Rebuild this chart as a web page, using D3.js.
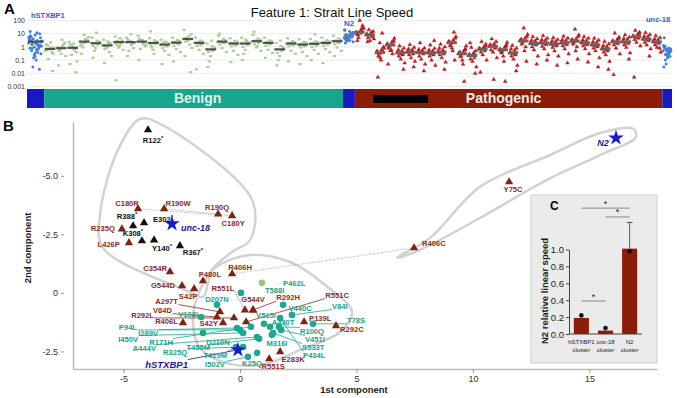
<!DOCTYPE html>
<html>
<head>
<meta charset="utf-8">
<script src="https://cdn.jsdelivr.net/npm/d3@7"></script>
<style>
  body { margin: 0; background: #fff; }
  svg text { font-family: 'Liberation Sans', Arial, sans-serif; }
</style>
</head>
<body>
<svg id="fig" width="677" height="398"></svg>
<script>
// ---------- panel A data ----------
var yTicksA = [100, 10, 1, 0.1, 0.01, 0.001];
var yTickLabelsA = ["100", "10", "1", "0.1", "0.01", "0.001"];
var groupNames = ["hSTXBP1", "Benign", "N2", "Pathogenic", "unc-18"];

var hstxbp1Vals = [2,3,1.5,5,8,0.8,1.2,4,2.5,0.6,6,10,1,3.5,0.4,2.2,0.3,1.8,7,0.9,0.15,2.8,12,0.5,1.4,0.2,4.5,0.7,0.03,1.1,0.1,3,0.02,0.25,5.5,1.6,0.8,2.6,0.35,15];
var n2Vals = [5,8,3,12,6,4,10,7,2.5,15,9,5.5,3.5,20,6.5,4.5,11,7.5,2,8.5,5,13,3,6,9.5,4,18,7,2.8,10.5];
var unc18Vals = [0.5,0.3,0.8,0.2,0.6,1,0.4,0.25,0.7,0.15,0.9,0.35,0.55,1.3,0.45,0.1,0.65,0.3,5,0.75,0.05,0.5,0.2,1.1,0.4,0.6,0.03,0.8,0.28];
var ctrlMedians = {hSTXBP1: 2.5, N2: 7};

var benignMedians = [0.7,0.8,0.85,2.5,1.9,1.3,2.3,2.3,2.5,2.0,1.5,2.1,4.0,2.0,0.65,2.5,1.8,1.8,2.7,2.0,0.65,1.8,1.5,1.7,2.0,2.7];
var benignVals = [
  [0.5,0.9,1.3,0.3,0.7,1.6,0.4,0.12,0.8,2.2,0.6,0.015],
  [0.8,1.1,0.5,2.0,0.3,0.9,1.4,0.6,0.2,3.5,0.04],
  [0.9,0.6,1.5,0.4,1.1,2.4,0.7,0.25,0.08,1.8,0.05,0.012],
  [2.5,4,1.6,3.2,8,1.2,2.8,0.9,5.5,2.0,0.3],
  [1.9,3,1.2,2.5,0.8,5,1.5,0.5,2.2,12,0.15],
  [1.3,2,0.7,1.8,0.9,3.5,0.4,1.1,0.2,2.6,0.06],
  [2.3,4.5,1.5,3,0.9,6,1.8,2.8,0.6,1.2,0.003],
  [2.3,1.4,3.6,0.8,2.7,5,1.9,0.5,2.1,9,0.2],
  [2.5,1.6,4,1.1,3,7,2,0.7,1.4,3.3,0.1],
  [2,3.2,1.3,2.6,0.6,4.5,1.7,0.9,2.3,0.3,15],
  [1.5,2.5,0.8,1.9,0.5,3.5,1.1,2.2,0.25,1.3,0.05],
  [2.1,3.4,1.2,2.7,0.7,5,1.6,2.4,0.4,1.9,0.08],
  [4,6.5,2.5,9,3,20,1.5,5,0.8,3.5,0.2,0.012],
  [2,3,1.2,2.5,0.6,5,1.4,2.2,0.3,1.7,0.02],
  [0.65,1.1,0.4,0.9,0.2,1.8,0.5,0.08,0.7,3,0.03],
  [2.5,4,1.5,3.2,0.8,7,1.9,2.8,0.4,2.1,10],
  [1.8,2.9,1.1,2.4,0.5,4.5,1.3,2,0.25,1.6,0.07],
  [1.8,2.7,1,2.2,0.6,5,1.4,0.3,1.9,3.5,0.1],
  [2.7,4.2,1.6,3.4,0.9,8,2,3,0.5,1.2,14],
  [2,3.1,1.2,2.6,0.6,5,1.5,2.3,0.35,1.7,0.15],
  [0.65,1.2,0.35,0.9,0.2,2,0.5,0.1,0.75,3,0.04],
  [1.8,2.8,1.1,2.3,0.5,4.5,1.3,2,0.3,1.6,0.08],
  [1.5,2.4,0.9,2,0.4,3.8,1.1,1.7,0.2,1.3,0.05],
  [1.7,2.6,1,2.2,0.6,4,1.2,1.9,0.3,9,0.1],
  [2,3.2,1.2,2.6,0.7,5,1.5,2.3,0.4,1.8,0.06],
  [2.7,4.3,1.6,3.5,0.9,7,2,3,0.5,2.2,0.2]
];

var pathMedians = [13,8,0.37,1.4,0.35,0.4,0.37,0.35,0.4,2.1,0.3,0.22,0.67,1.1,0.6,0.35,2.8,1.8,2.0,1.6,2.0,2.7,2.0,1.4,0.7,2.4,2.4,6.0,3.8,2.4];
var pathVals = [
  [13,20,8,30,100,10,16,5,25,11,3,40],
  [8,12,5,15,3,10,6,20,4,9,2.5,7],
  [0.37,0.6,0.2,1,0.15,0.5,11,0.3,0.8,0.1,0.005,0.45,2],
  [1.4,2.2,0.8,3,0.5,1.8,0.3,1.1,4.5,0.6,0.05,2.6],
  [0.35,0.5,0.2,0.8,0.12,0.4,0.25,1.2,0.06,0.3,0.6,0.02],
  [0.4,0.6,0.25,0.9,0.15,0.5,0.3,1.5,0.08,0.45,0.7,0.03],
  [0.37,0.55,0.2,0.8,0.12,0.45,0.3,2,0.05,0.4,0.65,0.015],
  [0.35,0.5,0.2,0.75,0.1,0.4,0.25,1.4,0.04,0.3,0.6,3],
  [0.4,0.6,0.25,1,0.15,0.5,0.3,1.6,0.07,0.45,0.8,0.02],
  [2.1,3.2,1.2,4.5,0.8,2.6,13,1.6,6,0.5,2.4,0.1],
  [0.3,0.45,0.18,0.7,0.1,0.35,0.0024,0.22,1.2,0.05,0.4,0.6],
  [0.22,0.35,0.12,0.5,0.08,0.28,0.15,0.9,0.03,0.25,2,0.01],
  [0.67,1,0.4,1.6,0.25,0.8,0.5,2.5,0.1,0.7,0.012,1.2],
  [1.1,1.7,0.6,2.5,0.4,1.3,0.8,4,0.15,0.0034,1.5,0.9],
  [0.6,0.9,0.35,1.4,0.2,0.7,0.0024,0.45,2.2,0.08,0.5,1.1],
  [0.35,0.55,0.2,0.8,0.12,0.4,0.25,1.3,0.04,0.3,0.7,0.015],
  [2.8,4.5,1.6,6,27,3.3,1,2.2,9,0.5,3.8,0.08],
  [1.8,2.8,1,4,0.6,2.2,1.4,6,0.2,1.6,3.2,0.05],
  [2,3.2,1.1,4.5,0.7,2.5,1.5,7,0.25,1.8,3.5,0.1],
  [1.6,2.5,0.9,3.6,0.5,2,1.2,5,0.2,1.4,2.8,0.04],
  [2,3.1,1.2,4.6,0.7,2.5,1.5,6.5,0.3,1.8,3.5,0.06],
  [2.7,4.2,1.6,6,22,3.3,1,2.2,8,0.5,3.6,0.12],
  [2,3,1.2,4.5,0.7,2.4,1.5,6,0.3,1.7,3.4,0.07],
  [1.4,2.2,0.8,3.2,0.5,1.7,1,4.5,0.15,1.2,2.5,0.03],
  [0.7,1.1,0.4,1.7,0.25,0.85,0.5,2.6,0.08,0.6,1.3,0.02],
  [2.4,3.7,1.4,5.5,0.8,3,1.8,11,0.3,2,0.008,4.2],
  [2.4,3.8,1.4,5.5,0.9,3,1.8,8,0.35,2.1,4.4,0.12],
  [6,9,3.5,13,2.2,7,4.5,18,1.2,5,0.005,10],
  [3.8,6,2.2,8.5,1.4,4.6,3,12,0.7,3.3,6.5,0.2],
  [2.4,3.6,1.4,5,0.9,2.9,1.8,7,0.4,2.1,4,0.8]
];

// ---------- panel B data (1st component, 2nd component) ----------
var xTicksB = [-5, 0, 5, 10, 15];
var yTicksB = [-5, -2.5, 0, 2.5];
var yTickLabelsB = ["-5.0", "-2.5", "0", "-2.5"];

var variants = [
  ["R122*","severe",-3.95,-6.96], ["R388*","severe",-4.59,-2.86], ["E302*","severe",-4.12,-2.99],
  ["K308*","severe",-4.21,-2.22], ["Y140*","severe",-3.69,-2.26], ["R367*","severe",-2.58,-2.01],
  ["C180R","path",-4.38,-3.59], ["R190W","path",-3.26,-3.59], ["R190Q","path",-0.94,-3.37],
  ["C180Y","path",-0.34,-3.29], ["R235Q","path",-5.07,-2.73], ["L426P","path",-4.77,-2.14],
  ["R406C","path",7.47,-1.92], ["Y75C","path",11.55,-4.74], ["C354R","path",-3.01,-0.90],
  ["G544D","path",-2.49,-0.30], ["S42P","path",-1.97,-0.17], ["P480L","path",-1.59,-0.51],
  ["R406H","path",-0.34,-0.81], ["R406L","path",-2.45,1.28], ["A297T","path",-0.86,0.81],
  ["V84D","path",-0.99,1.03], ["S42Y","path",-0.73,1.28], ["R292L","path",-0.26,1.07],
  ["R551C","path",0.26,1.24], ["R551L","path",0.21,0.73], ["G544V","path",0.56,0.73],
  ["R292H","path",0.56,0.73], ["P139L","path",2.75,1.24], ["R292C","path",4.12,1.41],
  ["E283K","path",1.72,2.52], ["R551S","path",1.25,2.82],
  ["T588I","benign",0.04,0.0], ["D207N","benign",-0.99,0.51], ["V108I","benign",-1.67,1.03],
  ["D210N","benign",-1.59,1.71], ["I289V","benign",-0.13,1.50], ["P94L","benign",0.0,1.58],
  ["I450V","benign",0.13,1.71], ["R171H","benign",0.47,1.45], ["A444V","benign",0.73,1.88],
  ["T455M","benign",0.82,1.96], ["V515I","benign",1.03,1.32], ["A430T","benign",1.29,1.45],
  ["M316I","benign",1.37,1.79], ["S533T","benign",1.42,1.71], ["R100Q","benign",1.67,1.45],
  ["V451I","benign",1.76,1.58], ["P434L","benign",1.72,1.07], ["V84I","benign",2.23,0.94],
  ["V440C","benign",1.85,0.51], ["T78S","benign",3.13,1.32], ["I502V","benign",0.34,2.73],
  ["K25Q","benign",0.73,2.56], ["R325Q","benign",0.13,2.31], ["T419M","benign",-0.17,2.31],
  ["P462L","gnomad",0.94,-0.43],
  ["unc-18","ctrl",-2.92,-2.95], ["hSTXBP1","ctrl",-0.09,2.43], ["N2","ctrl",16.14,-6.62]
];

var connectors = [["C180R","C180Y"], ["R190W","R190Q"], ["R406C","R406H"]];

var clusterOutlines = [
  [[-4.29,-7.43],[-3.43,-7.22],[0.52,-3.97],[0.43,-2.26],[-0.34,-1.75],[-1.20,-0.98],[-1.59,0.17],[-2.15,-0.04],[-5.88,-1.92],[-6.01,-3.33],[-5.24,-6.11]],
  [[-1.07,-1.07],[0.43,-1.62],[2.15,-1.32],[3.65,-0.34],[4.81,0.81],[4.29,1.67],[2.58,2.43],[1.07,3.03],[-0.43,3.03],[-1.72,2.35],[-2.02,1.15],[-1.72,-0.13]],
  [[6.74,-1.50],[8.16,-2.35],[10.30,-4.53],[13.31,-5.89],[15.46,-6.83],[16.87,-7.01],[17.00,-6.66],[15.46,-5.89],[13.18,-4.83],[10.30,-3.20],[7.73,-1.84]]
];

// ---------- panel C data ----------
var insetCats = ["hSTXBP1", "unc-18", "N2"];
var insetVals = [0.19, 0.04, 1.01];
var insetDots = [0.22, 0.07, 0.98];
var insetErrTop = [null, null, 1.32];
var insetTicks = [0, 0.2, 0.4, 0.6, 0.8, 1.0];
var insetSig = [[0, 2, 1.49], [1, 2, 1.385], [0, 1, 0.39]];

// ---------- layout ----------
var svg = d3.select("#fig");
svg.append("rect").attr("width", 677).attr("height", 398).attr("fill", "#fff");

var colors = {
  blue: "#3f7fdc", green: "#a3c98e", red: "#e3151b", redEdge: "#8a0f0f",
  ctrlBar: "#1818c4", benignBar: "#17a68b", pathBar: "#8b1c08",
  path: "#7f2212", pathText: "#8c2c1c", benign: "#1aa98f", benignText: "#16a38c",
  severe: "#111", ctrl: "#1a1ad0", ctrlText: "#1a1aa0", gnomad: "#9cc483"
};

// ========== Panel A ==========
var xA = d3.scaleLinear().domain([0, 60]).range([27, 672]);
var yA = d3.scaleLog().domain([0.001, 100]).range([86.5, 20.5]);
var span = {"hSTXBP1": [0, 1.6], "Benign": [1.6, 29.4], "N2": [29.4, 30.5], "Pathogenic": [30.5, 59.1], "unc-18": [59.1, 60]};

svg.append("text").attr("x", 4).attr("y", 14).attr("font-size", 15).attr("font-weight", "bold").text("A");
svg.append("text").attr("x", 332).attr("y", 17).attr("text-anchor", "middle").attr("font-size", 13)
  .attr("fill", "#111").text("Feature 1: Strait Line Speed");

svg.append("g").selectAll("line").data(yTicksA).join("line")
  .attr("x1", 27).attr("x2", 672)
  .attr("y1", d => yA(d)).attr("y2", d => yA(d))
  .attr("stroke", "#ececec");

var gA = svg.append("g").attr("transform", "translate(27,0)")
  .call(d3.axisLeft(yA).tickValues(yTicksA).tickFormat((d, i) => yTickLabelsA[i]).tickSize(0).tickPadding(2));
gA.select(".domain").remove();
gA.selectAll("text").attr("font-size", 7).attr("fill", "#333")
  .style("font-family", "'Liberation Sans', Arial, sans-serif");

function columns(name, lists) {
  var s = span[name][0], e = span[name][1], w = (e - s) / lists.length;
  return lists.flatMap((vals, k) => vals.map((v, i) => ({
    x: s + k * w + (0.1 + 0.8 * ((i * 0.618) % 1)) * w, v: v
  })));
}
function dashes(name, meds) {
  var s = span[name][0], e = span[name][1], w = (e - s) / meds.length;
  return meds.map((v, k) => ({x0: s + k * w + 0.05 * w, x1: s + (k + 1) * w - 0.05 * w, v: v}));
}

svg.append("g").selectAll("rect").data(columns("Benign", benignVals)).join("rect")
  .attr("x", d => xA(d.x) - 1.6).attr("y", d => yA(d.v) - 1.1)
  .attr("width", 3.2).attr("height", 2.2).attr("fill", colors.green).attr("opacity", 0.9);

var tri = d3.symbol().type(d3.symbolTriangle).size(6);
svg.append("g").selectAll("path").data(columns("Pathogenic", pathVals)).join("path")
  .attr("d", tri).attr("transform", d => `translate(${xA(d.x)},${yA(d.v)})`)
  .attr("fill", colors.red).attr("stroke", colors.redEdge).attr("stroke-width", 0.4);

var ctrlPts = columns("hSTXBP1", [hstxbp1Vals]).concat(columns("N2", [n2Vals]), columns("unc-18", [unc18Vals]));
svg.append("g").selectAll("circle").data(ctrlPts).join("circle")
  .attr("cx", d => xA(d.x)).attr("cy", d => yA(d.v)).attr("r", 1.5).attr("fill", colors.blue);

var medLines = dashes("Benign", benignMedians).map(d => Object.assign(d, {c: "#4f4f4f", w: 2.2}))
  .concat(dashes("Pathogenic", pathMedians).map(d => Object.assign(d, {c: "#6b6260", w: 3})),
          dashes("hSTXBP1", [ctrlMedians.hSTXBP1]).map(d => Object.assign(d, {c: "#4f4f4f", w: 2.2})),
          dashes("N2", [ctrlMedians.N2]).map(d => Object.assign(d, {c: "#6c7f9c", w: 2.2})));
svg.append("g").selectAll("line").data(medLines).join("line")
  .attr("x1", d => xA(d.x0)).attr("x2", d => xA(d.x1))
  .attr("y1", d => yA(d.v)).attr("y2", d => yA(d.v))
  .attr("stroke", d => d.c).attr("stroke-width", d => d.w);

// group labels above
svg.append("text").attr("x", 31).attr("y", 18).attr("font-size", 7.5).attr("font-weight", "bold").attr("fill", "#2f63c4").text("hSTXBP1");
svg.append("text").attr("x", 344).attr("y", 26).attr("font-size", 8).attr("font-weight", "bold").attr("fill", "#2f63c4").text("N2");
svg.append("text").attr("x", 646).attr("y", 22).attr("font-size", 7.5).attr("font-weight", "bold").attr("fill", "#2f63c4").text("unc-18");

// group colour bar
var barFill = {"hSTXBP1": colors.ctrlBar, "Benign": colors.benignBar, "N2": colors.ctrlBar, "Pathogenic": colors.pathBar, "unc-18": colors.ctrlBar};
svg.append("g").selectAll("rect").data(groupNames).join("rect")
  .attr("x", d => xA(span[d][0])).attr("width", d => xA(span[d][1]) - xA(span[d][0]))
  .attr("y", 89).attr("height", 19).attr("fill", d => barFill[d]);
svg.append("rect").attr("x", 373).attr("y", 95).attr("width", 55).attr("height", 8).attr("fill", "#000");
svg.append("text").attr("x", (xA(span.Benign[0]) + xA(span.Benign[1])) / 2 + 4).attr("y", 103)
  .attr("text-anchor", "middle").attr("font-size", 14).attr("font-weight", "bold").attr("fill", "#dff5ef").text("Benign");
svg.append("text").attr("x", (xA(span.Pathogenic[0]) + xA(span.Pathogenic[1])) / 2 - 5).attr("y", 103)
  .attr("text-anchor", "middle").attr("font-size", 14).attr("font-weight", "bold").attr("fill", "#f3e9e6").text("Pathogenic");

// ========== Panel B ==========
var xB = d3.scaleLinear().domain([-7.17, 17.9]).range([73, 657]);
var yB = d3.scaleLinear().domain([-7.3, 3.25]).range([122, 369]);

svg.append("text").attr("x", 3).attr("y", 131).attr("font-size", 15).attr("font-weight", "bold").text("B");

var gx = svg.append("g").attr("transform", "translate(0,369)")
  .call(d3.axisBottom(xB).tickValues(xTicksB).tickFormat(d => String(d)).tickSizeInner(4).tickSizeOuter(0).tickPadding(3));
gx.select(".domain").attr("stroke", "#bbb").attr("stroke-width", 1.5);
gx.selectAll(".tick line").attr("stroke", "#999");
gx.selectAll("text").attr("font-size", 9).attr("fill", "#333").style("font-family", "'Liberation Sans', Arial, sans-serif");

var gy = svg.append("g").attr("transform", "translate(73,0)")
  .call(d3.axisLeft(yB).tickValues(yTicksB).tickFormat((d, i) => yTickLabelsB[i]).tickSizeInner(0).tickSizeOuter(0).tickPadding(15));
gy.select(".domain").attr("stroke", "#bbb").attr("stroke-width", 1.5);
gy.selectAll(".tick").append("line").attr("x1", -12).attr("x2", -9).attr("stroke", "#999");
gy.selectAll("text").attr("font-size", 9).attr("fill", "#333").style("font-family", "'Liberation Sans', Arial, sans-serif");

svg.append("text").attr("x", 354).attr("y", 393).attr("text-anchor", "middle").attr("font-size", 9.5)
  .attr("font-weight", "bold").attr("fill", "#222").text("1st component");
svg.append("text").attr("transform", "translate(31,248) rotate(-90)").attr("text-anchor", "middle")
  .attr("font-size", 9.5).attr("font-weight", "bold").attr("fill", "#222").text("2nd component");

var outline = d3.line().x(d => xB(d[0])).y(d => yB(d[1])).curve(d3.curveCatmullRomClosed.alpha(0.5));
svg.append("g").selectAll("path").data(clusterOutlines).join("path")
  .attr("d", outline).attr("fill", "none").attr("stroke", "#d2d2d2").attr("stroke-width", 2.5);

var byName = {};
variants.forEach(v => { byName[v[0]] = v; });

svg.append("g").selectAll("line").data(connectors).join("line")
  .attr("x1", d => xB(byName[d[0]][2])).attr("y1", d => yB(byName[d[0]][3]))
  .attr("x2", d => xB(byName[d[1]][2])).attr("y2", d => yB(byName[d[1]][3]))
  .attr("stroke", "#999").attr("stroke-width", 0.8).attr("stroke-dasharray", "1.2,1.5");

var gLead = svg.append("g");
var gMark = svg.append("g");
var gLab = svg.append("g");

// label placement: [dx, dy, anchor, leader(0 none, 1 solid, 2 dotted)]
var labelLayout = {
  "R122*": [5,10,"middle",0], "R388*": [-6,-10,"middle",0], "E302*": [19,-4,"middle",0],
  "K308*": [-9,-8,"middle",0], "Y140*": [8,8,"middle",0], "R367*": [13,6,"middle",0],
  "C180R": [-11,-6,"middle",0], "R190W": [14,-6,"middle",0], "R190Q": [-1,-7,"middle",0],
  "C180Y": [1,7,"middle",0], "R235Q": [-7,-1,"end",0], "L426P": [-9,2,"end",0],
  "R406C": [8,-5,"start",0], "Y75C": [4,7,"middle",0], "C354R": [-3,-3,"end",0],
  "G544D": [-7,-1,"end",0], "S42P": [-6,7,"middle",0], "P480L": [7,-7,"middle",0],
  "R406H": [8,-7,"middle",0], "R406L": [-5,-2,"end",0], "A297T": [-42,-11,"end",1],
  "V84D": [-45,-7,"end",1], "R292L": [-80,-3,"end",1], "S42Y": [-5,0,"end",0],
  "R551C": [91,-27,"middle",1], "R551L": [-22,-22,"middle",2], "G544V": [0,-11,"middle",0],
  "R292H": [35,-12.5,"middle",1], "P139L": [5,-4,"start",0], "R292C": [4,3,"start",0],
  "E283K": [13,7,"middle",0], "R551S": [4,7,"middle",0],
  "T588I": [24,-2.5,"start",0], "D207N": [0,-6,"middle",0], "V108I": [-3,-3,"end",0],
  "D210N": [15,9,"middle",0], "I289V": [-79,5,"end",1], "P94L": [-103,-3,"end",1],
  "I450V": [-105,6,"end",1], "R171H": [-78,15,"end",1], "A444V": [-101,11,"end",1],
  "T455M": [-49,9,"end",1], "R325Q": [-56,5,"end",1], "T419M": [-9,8,"end",1],
  "I502V": [-23,8,"end",1], "K25Q": [-5,10,"middle",0], "V515I": [2,-8,"middle",0],
  "A430T": [13,-5,"middle",0], "V440C": [17,3,"middle",0], "M316I": [5,9,"middle",0],
  "R100Q": [21,4,"start",1], "V451I": [24,9,"start",1], "S533T": [29,14,"start",1],
  "P434L": [23,37,"start",1], "T78S": [34,-3,"start",1], "V84I": [40,-9,"start",1],
  "P462L": [21,0,"start",0],
  "unc-18": [9,4,"start",0], "hSTXBP1": [-50,14.5,"end",1], "N2": [-13,5,"middle",0]
};
var textColor = {severe: colors.severe, path: colors.pathText, benign: colors.benignText, gnomad: colors.benignText, ctrl: colors.ctrlText};
var leadColor = {severe: "#333", path: colors.pathText, benign: colors.benign, gnomad: colors.benign, ctrl: colors.ctrlText};

variants.forEach(function (v) {
  var name = v[0], cls = v[1], mx = xB(v[2]), my = yB(v[3]);
  var lay = labelLayout[name];
  var t = gLab.append("text")
    .attr("x", mx + lay[0]).attr("y", my + lay[1]).attr("dy", "0.35em")
    .attr("text-anchor", lay[2]).attr("fill", textColor[cls]).attr("font-weight", "bold");
  if (cls === "ctrl") {
    t.attr("font-size", name === "hSTXBP1" ? 9.5 : 9).attr("font-style", "italic").text(name);
  } else if (name.indexOf("*") >= 0) {
    t.attr("font-size", 7.6);
    t.append("tspan").text(name.replace("*", ""));
    t.append("tspan").attr("dy", -3).attr("font-size", 6).text("*");
  } else {
    t.attr("font-size", 7.6).text(name);
  }
  if (lay[3]) {
    var b = t.node().getBBox();
    var lx = Math.max(b.x, Math.min(mx, b.x + b.width));
    var ly = Math.max(b.y + 1, Math.min(my, b.y + b.height - 1));
    gLead.append("line").attr("x1", lx).attr("y1", ly).attr("x2", mx).attr("y2", my)
      .attr("stroke", leadColor[cls]).attr("stroke-width", 0.8)
      .attr("stroke-dasharray", lay[3] === 2 ? "1.2,1.5" : null);
  }
});

var triB = d3.symbol().type(d3.symbolTriangle).size(30);
var star = d3.symbol().type(d3.symbolStar).size(75);
gMark.selectAll("path.tri").data(variants.filter(v => v[1] === "severe" || v[1] === "path")).join("path")
  .attr("class", "tri").attr("d", triB)
  .attr("transform", d => `translate(${xB(d[2])},${yB(d[3])})`)
  .attr("fill", d => d[1] === "severe" ? colors.severe : colors.path);
gMark.selectAll("circle").data(variants.filter(v => v[1] === "benign" || v[1] === "gnomad")).join("circle")
  .attr("cx", d => xB(d[2])).attr("cy", d => yB(d[3])).attr("r", 3.3)
  .attr("fill", d => d[1] === "gnomad" ? colors.gnomad : colors.benign);
gMark.selectAll("path.star").data(variants.filter(v => v[1] === "ctrl")).join("path")
  .attr("class", "star").attr("d", star)
  .attr("transform", d => `translate(${xB(d[2])},${yB(d[3])})`)
  .attr("fill", colors.ctrl);

// ========== Panel C (inset) ==========
svg.append("rect").attr("x", 531).attr("y", 195).attr("width", 126).attr("height", 168)
  .attr("fill", "#ebebeb").attr("stroke", "#cfcfcf");
svg.append("text").attr("x", 550).attr("y", 210).attr("font-size", 12).attr("font-weight", "bold").text("C");

var xC = d3.scaleBand().domain(insetCats).range([569, 642]).paddingInner(0.375).paddingOuter(0.2);
var yC = d3.scaleLinear().domain([0, 1]).range([334, 249.5]);

var gC = svg.append("g").attr("transform", "translate(569,0)")
  .call(d3.axisLeft(yC).tickValues(insetTicks).tickFormat(d3.format(".1f")).tickSizeInner(3).tickSizeOuter(0).tickPadding(2));
gC.select(".domain").attr("stroke", "#444");
gC.selectAll(".tick line").attr("stroke", "#444");
gC.selectAll("text").attr("font-size", 9.5).attr("fill", "#222").style("font-family", "'Liberation Sans', Arial, sans-serif");

svg.append("line").attr("x1", 569).attr("x2", 642).attr("y1", 334).attr("y2", 334).attr("stroke", "#444");

svg.append("g").selectAll("rect").data(insetCats).join("rect")
  .attr("x", d => xC(d)).attr("width", xC.bandwidth())
  .attr("y", (d, i) => yC(insetVals[i])).attr("height", (d, i) => yC(0) - yC(insetVals[i]))
  .attr("fill", colors.pathBar);

insetCats.forEach(function (c, i) {
  var cx = xC(c) + xC.bandwidth() / 2;
  if (insetErrTop[i] !== null) {
    svg.append("line").attr("x1", cx).attr("x2", cx).attr("y1", yC(insetVals[i])).attr("y2", yC(insetErrTop[i]))
      .attr("stroke", "#333").attr("stroke-width", 0.8);
    svg.append("line").attr("x1", cx - 3).attr("x2", cx + 3).attr("y1", yC(insetErrTop[i])).attr("y2", yC(insetErrTop[i]))
      .attr("stroke", "#333").attr("stroke-width", 0.8);
  }
  svg.append("circle").attr("cx", cx).attr("cy", yC(insetDots[i])).attr("r", 2.3).attr("fill", "#111");
  svg.append("text").attr("x", cx).attr("y", 344).attr("text-anchor", "middle").attr("font-size", 6).attr("fill", "#222").text(c);
  svg.append("text").attr("x", cx).attr("y", 352).attr("text-anchor", "middle").attr("font-size", 6).attr("fill", "#222").text("cluster");
});

insetSig.forEach(function (s) {
  var x1 = xC(insetCats[s[0]]) + xC.bandwidth() / 2, x2 = xC(insetCats[s[1]]) + xC.bandwidth() / 2;
  svg.append("line").attr("x1", x1).attr("x2", x2).attr("y1", yC(s[2])).attr("y2", yC(s[2]))
    .attr("stroke", "#888").attr("stroke-width", 1);
  svg.append("text").attr("x", (x1 + x2) / 2).attr("y", yC(s[2]) - 1.5).attr("text-anchor", "middle")
    .attr("font-size", 9).attr("fill", "#222").text("*");
});

svg.append("text").attr("transform", "translate(548,291) rotate(-90)").attr("text-anchor", "middle")
  .attr("font-size", 9.5).attr("font-weight", "bold").attr("fill", "#222").text("N2 relative linear speed");
</script>
</body>
</html>
